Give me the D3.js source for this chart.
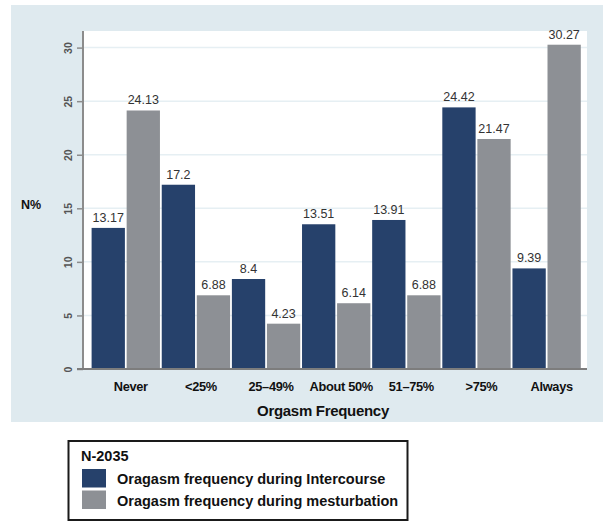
<!DOCTYPE html>
<html>
<head>
<meta charset="utf-8">
<script src="https://cdn.jsdelivr.net/npm/d3@7"></script>
<style>
  body { margin: 0; background: #fff; }
  svg { display: block; font-family: "Liberation Sans", Arial, sans-serif; }
</style>
</head>
<body>
<div id="chart"></div>
<script>
// data
const categories = ["Never", "<25%", "25–49%", "About 50%", "51–75%", ">75%", "Always"];
const series = ["Oragasm frequency during Intercourse", "Oragasm frequency during mesturbation"];
const intercourse = [13.17, 17.2, 8.4, 13.51, 13.91, 24.42, 9.39];
const masturbation = [24.13, 6.88, 4.23, 6.14, 6.88, 21.47, 30.27];
const yTicks = [0, 5, 10, 15, 20, 25, 30];
const legendTitle = "N-2035";

const colors = ["#26416b", "#8d9095"];
const rows = categories.map((c, i) => ({ cat: c, vals: [intercourse[i], masturbation[i]] }));

const W = 603, H = 521;
const svg = d3.select("#chart").append("svg")
  .attr("width", W)
  .attr("height", H);

// light blue panel
svg.append("rect")
  .attr("x", 11).attr("y", 5)
  .attr("width", W - 11).attr("height", 417)
  .attr("fill", "#dfeaef");

const plotL = 83, plotR = 587, plotT = 31, plotB = 369;

// white plot region
svg.append("rect")
  .attr("x", plotL).attr("y", plotT)
  .attr("width", plotR - plotL).attr("height", plotB - plotT)
  .attr("fill", "#fff");

const x0 = d3.scaleBand()
  .domain(categories)
  .range([90.7, 581.7]);
const x1 = d3.scaleBand()
  .domain([0, 1])
  .range([0.9, x0.step() - 0.9])
  .paddingInner(0.05);
const y = d3.scaleLinear()
  .domain([0, 31.55])
  .range([plotB, plotT]);

// faint gridlines
svg.append("g")
  .selectAll("line")
  .data(yTicks.filter(d => d > 0))
  .enter().append("line")
  .attr("x1", plotL).attr("x2", plotR)
  .attr("y1", d => y(d)).attr("y2", d => y(d))
  .attr("stroke", "#e6eff3")
  .attr("stroke-width", 1.5);

// bars
const groups = svg.append("g")
  .selectAll("g")
  .data(rows)
  .enter().append("g")
  .attr("transform", d => `translate(${x0(d.cat)},0)`);

groups.selectAll("rect")
  .data(d => d.vals.map((v, i) => ({ v, i })))
  .enter().append("rect")
  .attr("x", d => x1(d.i))
  .attr("y", d => y(d.v))
  .attr("width", x1.bandwidth())
  .attr("height", d => y(0) - y(d.v))
  .attr("fill", d => colors[d.i]);

// value labels
groups.selectAll("text")
  .data(d => d.vals.map((v, i) => ({ v, i })))
  .enter().append("text")
  .attr("x", d => x1(d.i) + x1.bandwidth() / 2)
  .attr("y", d => y(d.v) - 6)
  .attr("text-anchor", "middle")
  .attr("font-size", "12.5px")
  .attr("fill", "#333")
  .text(d => String(d.v));

// y axis
const yAxis = svg.append("g")
  .attr("transform", `translate(${plotL},0)`)
  .call(d3.axisLeft(y).tickValues(yTicks).tickSize(6).tickSizeOuter(0));
yAxis.select(".domain").attr("stroke", "#8c8c8c").attr("stroke-width", 2)
  .attr("d", `M0,${plotT}V${plotB}`);
yAxis.selectAll(".tick line").attr("stroke", "#8c8c8c").attr("stroke-width", 1.5);
yAxis.selectAll(".tick text")
  .attr("x", null).attr("dy", null)
  .attr("transform", "translate(-15,0) rotate(-90)")
  .attr("text-anchor", "middle")
  .attr("dominant-baseline", "central")
  .attr("font-size", "10.5px")
  .attr("font-weight", "bold")
  .attr("fill", "#555");

// x baseline
svg.append("line")
  .attr("x1", plotL - 6).attr("x2", plotR)
  .attr("y1", plotB).attr("y2", plotB)
  .attr("stroke", "#7d7d7d")
  .attr("stroke-width", 2.2);

// category labels
svg.append("g")
  .selectAll("text")
  .data(categories)
  .enter().append("text")
  .attr("x", d => x0(d) + x0.bandwidth() / 2 + 5)
  .attr("y", 391)
  .attr("text-anchor", "middle")
  .attr("font-size", "12.8px")
  .attr("font-weight", "bold")
  .attr("letter-spacing", "-0.3px")
  .attr("fill", "#111")
  .text(d => d);

// axis titles
svg.append("text")
  .attr("x", 323).attr("y", 416)
  .attr("text-anchor", "middle")
  .attr("font-size", "15px")
  .attr("font-weight", "bold")
  .attr("letter-spacing", "-0.3px")
  .attr("fill", "#111")
  .text("Orgasm Frequency");

svg.append("text")
  .attr("x", 31).attr("y", 209)
  .attr("text-anchor", "middle")
  .attr("font-size", "12.5px")
  .attr("font-weight", "bold")
  .attr("fill", "#111")
  .text("N%");

// legend
const lg = svg.append("g");
lg.append("rect")
  .attr("x", 68.5).attr("y", 441)
  .attr("width", 339).attr("height", 79)
  .attr("fill", "#fff")
  .attr("stroke", "#1a1a1a")
  .attr("stroke-width", 2);
lg.append("text")
  .attr("x", 81).attr("y", 461)
  .attr("font-size", "14.5px")
  .attr("font-weight", "bold")
  .attr("fill", "#111")
  .text(legendTitle);
series.forEach((s, i) => {
  lg.append("rect")
    .attr("x", 82).attr("y", 469 + i * 21.5)
    .attr("width", 24).attr("height", 18.5)
    .attr("fill", colors[i]);
  lg.append("text")
    .attr("x", 117).attr("y", 479 + i * 21.5)
    .attr("dominant-baseline", "central")
    .attr("font-size", "14.5px")
    .attr("font-weight", "bold")
    .attr("fill", "#111")
    .text(s);
});
</script>
</body>
</html>
